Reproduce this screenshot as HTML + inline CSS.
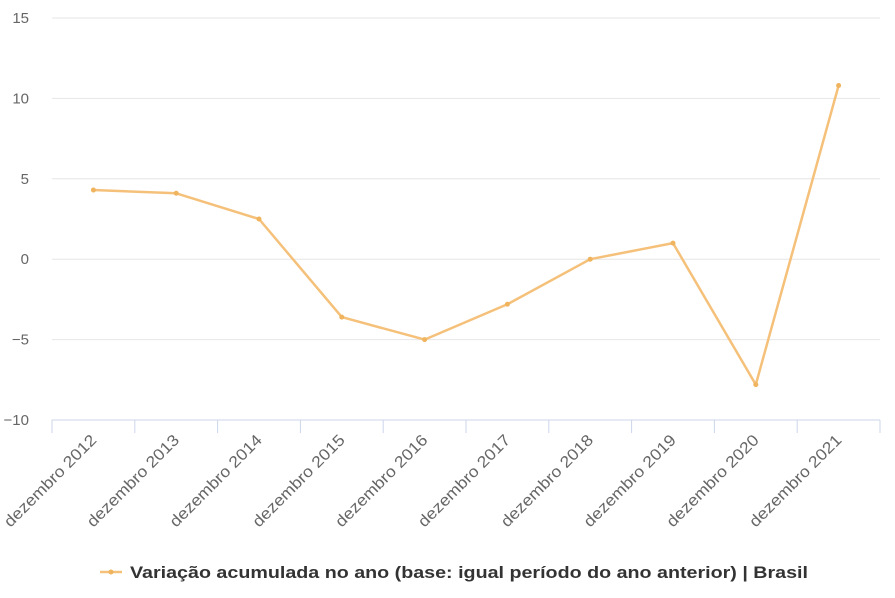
<!DOCTYPE html>
<html><head><meta charset="utf-8"><style>
body{margin:0;background:#fff;}
svg{font-family:"Liberation Sans",sans-serif;}
</style></head><body>
<svg id="c" width="895" height="593"></svg>
<script>
const categories=["dezembro 2012","dezembro 2013","dezembro 2014","dezembro 2015","dezembro 2016","dezembro 2017","dezembro 2018","dezembro 2019","dezembro 2020","dezembro 2021"];
const values=[4.3,4.1,2.5,-3.6,-5.0,-2.8,0.0,1.0,-7.8,10.8];
const yTicks=[15,10,5,0,-5,-10];
const NS="http://www.w3.org/2000/svg";
const svg=document.getElementById('c');
const L=52,R=880,T0=18,B0=420;
const y=v=>B0-(v+10)*(B0-T0)/25;
const bw=(R-L)/categories.length;
const x=i=>L+bw*(i+0.5);
function mk(t,a,p){const e=document.createElementNS(NS,t);for(const k in a)e.setAttribute(k,a[k]);(p||svg).appendChild(e);return e;}
yTicks.forEach(v=>{
 if(v!==-10){const g=mk('line',{x1:L,x2:R,y1:y(v),y2:y(v),stroke:'#e6e6e6','stroke-width':1});
 
 }
 const t=mk('text',{x:29,y:y(v)+5,'text-anchor':'end','font-size':15,fill:'#666'});
 t.textContent=v<0?'\u2212'+Math.abs(v):v;
 
 
});
const ax=mk('line',{x1:L,x2:R,y1:B0,y2:B0,stroke:'#ccd6eb','stroke-width':1});


for(let i=0;i<=categories.length;i++){
 const tk=mk('line',{x1:L+bw*i,x2:L+bw*i,y1:B0,y2:B0+13,stroke:'#ccd6eb'});
 
 
}
categories.forEach((c,i)=>{
 const t=mk('text',{x:x(i)+4,y:441,'text-anchor':'end','font-size':16,fill:'#666',textLength:123,lengthAdjust:'spacingAndGlyphs',transform:`rotate(-45 ${x(i)+4} 441)`});
 t.textContent=c;
 
 
});
const pl=mk('polyline',{points:values.map((v,i)=>x(i)+','+y(v)).join(' '),fill:'none',stroke:'#f5c17a','stroke-width':2.5,'stroke-linejoin':'round'});


values.forEach((v,i)=>{
 const p=mk('circle',{cx:x(i),cy:y(v),r:2.5,fill:'#f0b35e'});
 
 
});
const lg=mk('g',{});


mk('line',{x1:100,x2:122,y1:572,y2:572,stroke:'#f5c17a','stroke-width':2.5},lg);
mk('circle',{cx:111,cy:572,r:2.5,fill:'#f0b35e'},lg);
const lt=mk('text',{x:130,y:578,'font-size':17,'font-weight':'bold',fill:'#333',textLength:678,lengthAdjust:'spacingAndGlyphs'},lg);
lt.textContent='Variação acumulada no ano (base: igual período do ano anterior) | Brasil';
</script>
</body></html>
